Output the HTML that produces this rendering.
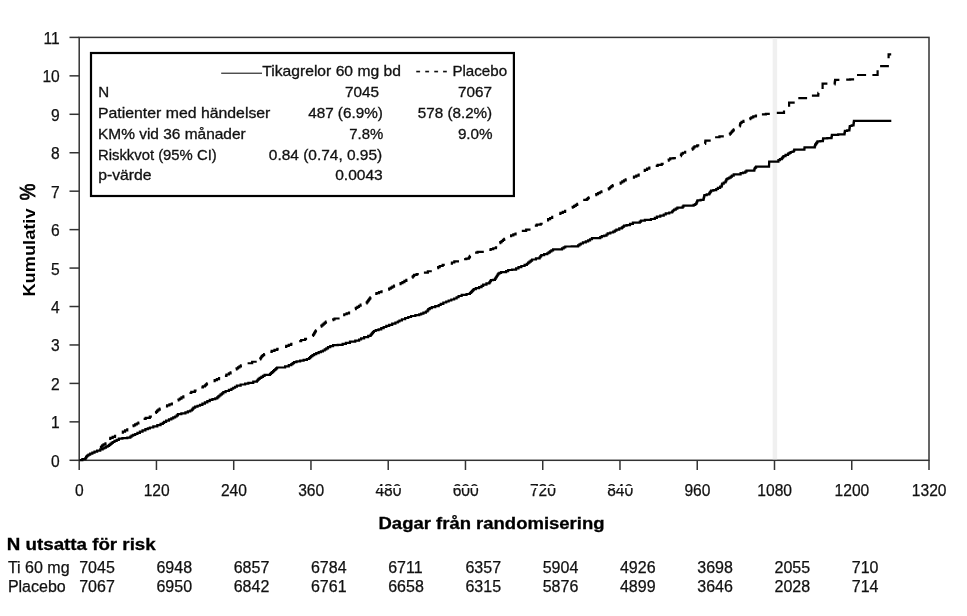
<!DOCTYPE html>
<html><head><meta charset="utf-8"><title>Kumulativ %</title>
<style>
html,body{margin:0;padding:0;background:#fff;}
body{width:967px;height:616px;overflow:hidden;}
svg{display:block;}
.ax{font-family:"Liberation Sans", Arial, sans-serif;font-size:15.6px;fill:#111;stroke:#111;stroke-width:0.25px;}
.axb{font-family:"Liberation Sans", Arial, sans-serif;font-size:16.2px;font-weight:bold;fill:#000;}
.pct{font-size:22.5px;font-weight:normal;stroke:#000;stroke-width:0.8px;}
.cb{font-family:"Liberation Sans", Arial, sans-serif;font-size:17px;font-weight:bold;fill:#000;stroke:#000;stroke-width:0.3px;}
.rt{font-family:"Liberation Sans", Arial, sans-serif;font-size:16px;fill:#111;stroke:#111;stroke-width:0.25px;}
.lg{font-family:"Liberation Sans", Arial, sans-serif;font-size:14.5px;fill:#111;stroke:#111;stroke-width:0.3px;}
</style></head><body>
<svg width="967" height="616" viewBox="0 0 967 616">
<rect x="79.2" y="37.4" width="849.8" height="422.9" fill="none" stroke="#333" stroke-width="1.5"/>
<line x1="774.9" y1="38.4" x2="774.9" y2="459.3" stroke="#f0f0f0" stroke-width="4.5"/>
<line x1="69.5" y1="460.30" x2="79.2" y2="460.30" stroke="#333" stroke-width="1.5"/>
<text x="59.8" y="466.80" text-anchor="end" class="ax">0</text>
<line x1="69.5" y1="421.85" x2="79.2" y2="421.85" stroke="#333" stroke-width="1.5"/>
<text x="59.8" y="428.35" text-anchor="end" class="ax">1</text>
<line x1="69.5" y1="383.41" x2="79.2" y2="383.41" stroke="#333" stroke-width="1.5"/>
<text x="59.8" y="389.91" text-anchor="end" class="ax">2</text>
<line x1="69.5" y1="344.96" x2="79.2" y2="344.96" stroke="#333" stroke-width="1.5"/>
<text x="59.8" y="351.46" text-anchor="end" class="ax">3</text>
<line x1="69.5" y1="306.52" x2="79.2" y2="306.52" stroke="#333" stroke-width="1.5"/>
<text x="59.8" y="313.02" text-anchor="end" class="ax">4</text>
<line x1="69.5" y1="268.07" x2="79.2" y2="268.07" stroke="#333" stroke-width="1.5"/>
<text x="59.8" y="274.57" text-anchor="end" class="ax">5</text>
<line x1="69.5" y1="229.63" x2="79.2" y2="229.63" stroke="#333" stroke-width="1.5"/>
<text x="59.8" y="236.13" text-anchor="end" class="ax">6</text>
<line x1="69.5" y1="191.18" x2="79.2" y2="191.18" stroke="#333" stroke-width="1.5"/>
<text x="59.8" y="197.68" text-anchor="end" class="ax">7</text>
<line x1="69.5" y1="152.74" x2="79.2" y2="152.74" stroke="#333" stroke-width="1.5"/>
<text x="59.8" y="159.24" text-anchor="end" class="ax">8</text>
<line x1="69.5" y1="114.29" x2="79.2" y2="114.29" stroke="#333" stroke-width="1.5"/>
<text x="59.8" y="120.79" text-anchor="end" class="ax">9</text>
<line x1="69.5" y1="75.85" x2="79.2" y2="75.85" stroke="#333" stroke-width="1.5"/>
<text x="59.8" y="82.35" text-anchor="end" class="ax">10</text>
<line x1="69.5" y1="37.40" x2="79.2" y2="37.40" stroke="#333" stroke-width="1.5"/>
<text x="59.8" y="43.90" text-anchor="end" class="ax">11</text>
<line x1="79.20" y1="460.3" x2="79.20" y2="470" stroke="#333" stroke-width="1.5"/>
<text x="79.40" y="495.5" text-anchor="middle" class="ax">0</text>
<line x1="156.45" y1="460.3" x2="156.45" y2="470" stroke="#333" stroke-width="1.5"/>
<text x="156.65" y="495.5" text-anchor="middle" class="ax">120</text>
<line x1="233.71" y1="460.3" x2="233.71" y2="470" stroke="#333" stroke-width="1.5"/>
<text x="233.91" y="495.5" text-anchor="middle" class="ax">240</text>
<line x1="310.96" y1="460.3" x2="310.96" y2="470" stroke="#333" stroke-width="1.5"/>
<text x="311.16" y="495.5" text-anchor="middle" class="ax">360</text>
<line x1="388.22" y1="460.3" x2="388.22" y2="470" stroke="#333" stroke-width="1.5"/>
<text x="388.42" y="495.5" text-anchor="middle" class="ax">480</text>
<line x1="465.47" y1="460.3" x2="465.47" y2="470" stroke="#333" stroke-width="1.5"/>
<text x="465.67" y="495.5" text-anchor="middle" class="ax">600</text>
<line x1="542.73" y1="460.3" x2="542.73" y2="470" stroke="#333" stroke-width="1.5"/>
<text x="542.93" y="495.5" text-anchor="middle" class="ax">720</text>
<line x1="619.98" y1="460.3" x2="619.98" y2="470" stroke="#333" stroke-width="1.5"/>
<text x="620.18" y="495.5" text-anchor="middle" class="ax">840</text>
<line x1="697.24" y1="460.3" x2="697.24" y2="470" stroke="#333" stroke-width="1.5"/>
<text x="697.44" y="495.5" text-anchor="middle" class="ax">960</text>
<line x1="774.49" y1="460.3" x2="774.49" y2="470" stroke="#333" stroke-width="1.5"/>
<text x="774.69" y="495.5" text-anchor="middle" class="ax">1080</text>
<line x1="851.75" y1="460.3" x2="851.75" y2="470" stroke="#333" stroke-width="1.5"/>
<text x="851.95" y="495.5" text-anchor="middle" class="ax">1200</text>
<line x1="929.00" y1="460.3" x2="929.00" y2="470" stroke="#333" stroke-width="1.5"/>
<text x="929.20" y="495.5" text-anchor="middle" class="ax">1320</text>
<rect x="368" y="486" width="290" height="2" fill="#fff"/>
<path d="M79.60 460.10 L82.35 460.10 L82.35 459.10 L85.10 459.10 L85.42 459.10 L85.42 458.13 L86.05 458.13 L86.05 457.17 L86.68 457.17 L86.68 456.20 L87.00 456.20 L87.53 456.20 L87.53 455.40 L88.57 455.40 L88.57 454.60 L89.10 454.60 L90.18 454.60 L90.18 453.63 L92.35 453.63 L92.35 452.67 L94.52 452.67 L94.52 451.70 L95.60 451.70 L97.15 451.70 L97.15 450.55 L100.25 450.55 L100.25 449.40 L101.80 449.40 L102.64 449.40 L102.64 448.50 L104.31 448.50 L104.31 447.60 L105.99 447.60 L105.99 446.70 L107.66 446.70 L107.66 445.80 L108.50 445.80 L109.11 445.80 L109.11 444.85 L110.34 444.85 L110.34 443.90 L111.56 443.90 L111.56 442.95 L112.79 442.95 L112.79 442.00 L113.40 442.00 L114.48 442.00 L114.48 440.90 L116.65 440.90 L116.65 439.80 L118.82 439.80 L118.82 438.70 L119.90 438.70 L122.40 438.70 L122.40 438.10 L124.90 438.10 L127.30 438.10 L127.30 437.60 L129.70 437.60 L130.32 437.60 L130.32 436.60 L131.57 436.60 L131.57 435.60 L132.20 435.60 L133.20 435.60 L133.20 434.80 L135.20 434.80 L135.20 434.00 L136.20 434.00 L137.42 434.00 L137.42 432.80 L139.88 432.80 L139.88 431.60 L141.10 431.60 L142.53 431.60 L142.53 430.35 L145.38 430.35 L145.38 429.10 L146.80 429.10 L147.83 429.10 L147.83 428.30 L149.88 428.30 L149.88 427.50 L150.90 427.50 L153.30 427.50 L153.30 426.30 L155.70 426.30 L157.32 426.30 L157.32 425.05 L160.57 425.05 L160.57 423.80 L162.20 423.80 L162.82 423.80 L162.82 422.80 L164.07 422.80 L164.07 421.80 L164.70 421.80 L166.12 421.80 L166.12 420.60 L168.97 420.60 L168.97 419.40 L170.40 419.40 L171.35 419.40 L171.35 418.43 L173.25 418.43 L173.25 417.47 L175.15 417.47 L175.15 416.50 L176.10 416.50 L176.70 416.50 L176.70 415.30 L177.90 415.30 L177.90 414.10 L178.50 414.10 L181.35 414.10 L181.35 413.30 L184.20 413.30 L185.42 413.30 L185.42 412.37 L187.85 412.37 L187.85 411.43 L190.28 411.43 L190.28 410.50 L191.50 410.50 L191.90 410.50 L191.90 409.53 L192.70 409.53 L192.70 408.57 L193.50 408.57 L193.50 407.60 L193.90 407.60 L195.12 407.60 L195.12 406.67 L197.55 406.67 L197.55 405.73 L199.98 405.73 L199.98 404.80 L201.20 404.80 L202.42 404.80 L202.42 403.60 L204.88 403.60 L204.88 402.40 L206.10 402.40 L207.32 402.40 L207.32 401.15 L209.78 401.15 L209.78 399.90 L211.00 399.90 L212.43 399.90 L212.43 399.10 L215.27 399.10 L215.27 398.30 L216.70 398.30 L217.23 398.30 L217.23 397.37 L218.30 397.37 L218.30 396.43 L219.37 396.43 L219.37 395.50 L219.90 395.50 L220.58 395.50 L220.58 394.40 L221.95 394.40 L221.95 393.30 L223.32 393.30 L223.32 392.20 L224.00 392.20 L225.62 392.20 L225.62 391.00 L228.88 391.00 L228.88 389.80 L230.50 389.80 L231.41 389.80 L231.41 388.77 L233.24 388.77 L233.24 387.75 L235.06 387.75 L235.06 386.73 L236.89 386.73 L236.89 385.70 L237.80 385.70 L240.65 385.70 L240.65 384.50 L243.50 384.50 L245.12 384.50 L245.12 383.70 L248.38 383.70 L248.38 382.90 L250.00 382.90 L253.25 382.90 L253.25 381.70 L256.50 381.70 L256.90 381.70 L256.90 380.77 L257.70 380.77 L257.70 379.83 L258.50 379.83 L258.50 378.90 L258.90 378.90 L259.71 378.90 L259.71 377.88 L261.34 377.88 L261.34 376.85 L262.96 376.85 L262.96 375.82 L264.59 375.82 L264.59 374.80 L265.40 374.80 L267.45 374.80 L269.50 374.80 L270.01 374.80 L270.01 373.88 L271.04 373.88 L271.04 372.95 L272.06 372.95 L272.06 372.03 L273.09 372.03 L273.09 371.10 L273.60 371.10 L274.10 371.10 L274.10 370.20 L275.10 370.20 L275.10 369.30 L276.10 369.30 L276.10 368.40 L277.10 368.40 L277.10 367.50 L277.60 367.50 L280.45 367.50 L283.30 367.50 L285.12 367.50 L285.12 366.30 L288.78 366.30 L288.78 365.10 L290.60 365.10 L291.28 365.10 L291.28 364.13 L292.65 364.13 L292.65 363.17 L294.02 363.17 L294.02 362.20 L294.70 362.20 L296.52 362.20 L296.52 361.40 L300.18 361.40 L300.18 360.60 L302.00 360.60 L303.62 360.60 L303.62 359.80 L306.88 359.80 L306.88 359.00 L308.50 359.00 L309.03 359.00 L309.03 358.03 L310.10 358.03 L310.10 357.07 L311.17 357.07 L311.17 356.10 L311.70 356.10 L312.52 356.10 L312.52 355.10 L314.18 355.10 L314.18 354.10 L315.00 354.10 L316.23 354.10 L316.23 353.10 L318.67 353.10 L318.67 352.10 L319.90 352.10 L320.90 352.10 L320.90 351.30 L322.90 351.30 L322.90 350.50 L323.90 350.50 L324.72 350.50 L324.72 349.40 L326.35 349.40 L326.35 348.30 L327.98 348.30 L327.98 347.20 L328.80 347.20 L330.23 347.20 L330.23 346.20 L333.07 346.20 L333.07 345.20 L334.50 345.20 L337.75 345.20 L337.75 344.80 L341.00 344.80 L342.62 344.80 L342.62 343.80 L345.88 343.80 L345.88 342.80 L347.50 342.80 L349.95 342.80 L349.95 341.60 L352.40 341.60 L355.25 341.60 L355.25 340.70 L358.10 340.70 L359.10 340.70 L359.10 339.50 L361.10 339.50 L361.10 338.30 L362.10 338.30 L364.12 338.30 L364.12 337.10 L368.18 337.10 L368.18 335.90 L370.20 335.90 L370.61 335.90 L370.61 334.92 L371.43 334.92 L371.43 333.94 L372.25 333.94 L372.25 332.96 L373.07 332.96 L373.07 331.98 L373.89 331.98 L373.89 331.00 L374.30 331.00 L375.73 331.00 L375.73 330.20 L378.57 330.20 L378.57 329.40 L380.00 329.40 L381.23 329.40 L381.23 328.20 L383.67 328.20 L383.67 327.00 L384.90 327.00 L386.32 327.00 L386.32 325.95 L389.18 325.95 L389.18 324.90 L390.60 324.90 L392.20 324.90 L392.20 323.70 L395.40 323.70 L395.40 322.50 L397.00 322.50 L397.82 322.50 L397.82 321.50 L399.48 321.50 L399.48 320.50 L400.30 320.50 L401.93 320.50 L401.93 319.25 L405.18 319.25 L405.18 318.00 L406.80 318.00 L408.23 318.00 L408.23 317.00 L411.07 317.00 L411.07 316.00 L412.50 316.00 L415.35 316.00 L415.35 315.20 L418.20 315.20 L419.20 315.20 L419.20 314.40 L421.20 314.40 L421.20 313.60 L422.20 313.60 L423.43 313.60 L423.43 312.55 L425.88 312.55 L425.88 311.50 L427.10 311.50 L427.50 311.50 L427.50 310.30 L428.30 310.30 L428.30 309.10 L428.70 309.10 L429.73 309.10 L429.73 308.10 L431.77 308.10 L431.77 307.10 L432.80 307.10 L435.25 307.10 L435.25 306.20 L437.70 306.20 L438.70 306.20 L438.70 305.00 L440.70 305.00 L440.70 303.80 L441.70 303.80 L443.35 303.80 L443.35 302.50 L445.00 302.50 L446.23 302.50 L446.23 301.50 L448.67 301.50 L448.67 300.50 L449.90 300.50 L451.32 300.50 L451.32 299.50 L454.18 299.50 L454.18 298.50 L455.60 298.50 L456.60 298.50 L456.60 297.25 L458.60 297.25 L458.60 296.00 L459.60 296.00 L461.65 296.00 L461.65 294.80 L463.70 294.80 L466.55 294.80 L466.55 294.00 L469.40 294.00 L469.88 294.00 L469.88 293.02 L470.84 293.02 L470.84 292.04 L471.80 292.04 L471.80 291.06 L472.76 291.06 L472.76 290.08 L473.72 290.08 L473.72 289.10 L474.20 289.10 L475.82 289.10 L475.82 288.10 L479.07 288.10 L479.07 287.10 L480.70 287.10 L481.52 287.10 L481.52 285.90 L483.18 285.90 L483.18 284.70 L484.00 284.70 L486.45 284.70 L486.45 283.40 L488.90 283.40 L489.30 283.40 L489.30 282.33 L490.10 282.33 L490.10 281.27 L490.90 281.27 L490.90 280.20 L491.30 280.20 L492.95 280.20 L492.95 279.80 L494.60 279.80 L494.93 279.80 L494.93 278.78 L495.60 278.78 L495.60 277.77 L496.27 277.77 L496.27 276.75 L496.93 276.75 L496.93 275.73 L497.60 275.73 L497.60 274.72 L498.27 274.72 L498.27 273.70 L498.60 273.70 L499.43 273.70 L499.43 272.90 L501.07 272.90 L501.07 272.10 L501.90 272.10 L503.50 272.10 L505.10 272.10 L506.12 272.10 L506.12 271.05 L508.18 271.05 L508.18 270.00 L509.20 270.00 L512.05 270.00 L512.05 269.70 L514.90 269.70 L516.10 269.70 L516.10 268.45 L518.50 268.45 L518.50 267.20 L519.70 267.20 L521.33 267.20 L521.33 266.00 L524.58 266.00 L524.58 264.80 L526.20 264.80 L526.85 264.80 L526.85 263.74 L528.15 263.74 L528.15 262.68 L529.45 262.68 L529.45 261.62 L530.75 261.62 L530.75 260.56 L532.05 260.56 L532.05 259.50 L532.70 259.50 L535.95 259.50 L535.95 258.30 L539.20 258.30 L539.62 258.30 L539.62 257.23 L540.45 257.23 L540.45 256.17 L541.28 256.17 L541.28 255.10 L541.70 255.10 L544.15 255.10 L544.15 254.20 L546.60 254.20 L547.27 254.20 L547.27 253.27 L548.60 253.27 L548.60 252.33 L549.93 252.33 L549.93 251.40 L550.60 251.40 L551.42 251.40 L551.42 250.40 L553.08 250.40 L553.08 249.40 L553.90 249.40 L557.55 249.40 L561.20 249.40 L562.02 249.40 L562.02 248.43 L563.65 248.43 L563.65 247.47 L565.28 247.47 L565.28 246.50 L566.10 246.50 L571.75 246.50 L571.75 246.30 L577.40 246.30 L578.08 246.30 L578.08 245.37 L579.45 245.37 L579.45 244.43 L580.82 244.43 L580.82 243.50 L581.50 243.50 L582.92 243.50 L582.92 242.45 L585.78 242.45 L585.78 241.40 L587.20 241.40 L588.15 241.40 L588.15 240.33 L590.05 240.33 L590.05 239.27 L591.95 239.27 L591.95 238.20 L592.90 238.20 L596.15 238.20 L599.40 238.20 L600.20 238.20 L600.20 237.15 L601.80 237.15 L601.80 236.10 L602.60 236.10 L604.25 236.10 L604.25 235.70 L605.90 235.70 L606.50 235.70 L606.50 234.50 L607.70 234.50 L607.70 233.30 L608.30 233.30 L610.35 233.30 L610.35 232.50 L612.40 232.50 L613.20 232.50 L613.20 231.57 L614.80 231.57 L614.80 230.63 L616.40 230.63 L616.40 229.70 L617.20 229.70 L619.25 229.70 L619.25 228.40 L621.30 228.40 L621.85 228.40 L621.85 227.47 L622.95 227.47 L622.95 226.53 L624.05 226.53 L624.05 225.60 L624.60 225.60 L626.60 225.60 L626.60 225.20 L628.60 225.20 L630.02 225.20 L630.02 223.95 L632.88 223.95 L632.88 222.70 L634.30 222.70 L636.75 222.70 L639.20 222.70 L639.80 222.70 L639.80 221.70 L641.00 221.70 L641.00 220.70 L641.60 220.70 L644.85 220.70 L644.85 219.80 L648.10 219.80 L650.95 219.80 L650.95 219.00 L653.80 219.00 L654.82 219.00 L654.82 217.80 L656.88 217.80 L656.88 216.60 L657.90 216.60 L660.30 216.60 L660.30 215.70 L662.70 215.70 L663.73 215.70 L663.73 214.50 L665.77 214.50 L665.77 213.30 L666.80 213.30 L669.25 213.30 L669.25 212.50 L671.70 212.50 L672.10 212.50 L672.10 211.50 L672.90 211.50 L672.90 210.50 L673.30 210.50 L674.12 210.50 L674.12 209.53 L675.75 209.53 L675.75 208.57 L677.38 208.57 L677.38 207.60 L678.20 207.60 L680.20 207.60 L682.20 207.60 L682.62 207.60 L682.62 206.60 L683.48 206.60 L683.48 205.60 L683.90 205.60 L688.35 205.60 L692.80 205.60 L693.62 205.60 L693.62 204.80 L695.27 204.80 L695.27 204.00 L696.10 204.00 L696.30 204.00 L696.30 203.07 L696.70 203.07 L696.70 202.15 L697.10 202.15 L697.10 201.23 L697.50 201.23 L697.50 200.30 L697.70 200.30 L700.55 200.30 L700.55 199.90 L703.40 199.90 L703.51 199.90 L703.51 198.94 L703.73 198.94 L703.73 197.98 L703.95 197.98 L703.95 197.02 L704.17 197.02 L704.17 196.06 L704.39 196.06 L704.39 195.10 L704.50 195.10 L706.70 195.10 L706.70 194.30 L708.90 194.30 L709.21 194.30 L709.21 193.38 L709.84 193.38 L709.84 192.45 L710.46 192.45 L710.46 191.53 L711.09 191.53 L711.09 190.60 L711.40 190.60 L713.40 190.60 L713.40 190.20 L715.40 190.20 L716.23 190.20 L716.23 189.00 L717.88 189.00 L717.88 187.80 L718.70 187.80 L720.10 187.80 L720.10 186.60 L721.50 186.60 L721.63 186.60 L721.63 185.63 L721.90 185.63 L721.90 184.67 L722.17 184.67 L722.17 183.70 L722.30 183.70 L723.75 183.70 L723.75 182.50 L725.20 182.50 L725.47 182.50 L725.47 181.40 L726.00 181.40 L726.00 180.30 L726.53 180.30 L726.53 179.20 L726.80 179.20 L727.62 179.20 L727.62 178.40 L729.27 178.40 L729.27 177.60 L730.10 177.60 L730.70 177.60 L730.70 176.60 L731.90 176.60 L731.90 175.60 L732.50 175.60 L733.70 175.60 L733.70 174.40 L734.90 174.40 L737.35 174.40 L739.80 174.40 L740.60 174.40 L740.60 173.20 L741.40 173.20 L743.05 173.20 L743.05 172.70 L744.70 172.70 L745.30 172.70 L745.30 171.70 L746.50 171.70 L746.50 170.70 L747.10 170.70 L750.65 170.70 L754.20 170.70 L754.30 170.70 L754.30 169.60 L754.50 169.60 L754.50 168.50 L754.60 168.50 L755.10 168.50 L755.10 167.55 L756.10 167.55 L756.10 166.60 L756.60 166.60 L762.80 166.60 L769.00 166.60 L769.02 166.60 L769.02 165.60 L769.06 165.60 L769.06 164.60 L769.10 164.60 L769.10 163.60 L769.14 163.60 L769.14 162.60 L769.18 162.60 L769.18 161.60 L769.20 161.60 L773.75 161.60 L778.30 161.60 L778.40 161.60 L778.40 160.20 L778.50 160.20 L779.95 160.20 L779.95 159.20 L781.40 159.20 L781.82 159.20 L781.82 158.17 L782.65 158.17 L782.65 157.13 L783.48 157.13 L783.48 156.10 L783.90 156.10 L785.55 156.10 L785.55 154.90 L787.20 154.90 L788.00 154.90 L788.00 153.60 L788.80 153.60 L789.42 153.60 L789.42 152.80 L790.67 152.80 L790.67 152.00 L791.30 152.00 L792.55 152.00 L792.55 151.50 L793.80 151.50 L793.95 151.50 L793.95 150.60 L794.25 150.60 L794.25 149.70 L794.40 149.70 L799.35 149.70 L804.30 149.70 L804.38 149.70 L804.38 148.50 L804.52 148.50 L804.52 147.30 L804.60 147.30 L809.60 147.30 L814.60 147.30 L814.77 147.30 L814.77 146.10 L815.12 146.10 L815.12 144.90 L815.30 144.90 L815.61 144.90 L815.61 144.03 L816.24 144.03 L816.24 143.15 L816.86 143.15 L816.86 142.28 L817.49 142.28 L817.49 141.40 L817.80 141.40 L820.30 141.40 L820.30 141.20 L822.80 141.20 L822.87 141.20 L822.87 140.27 L823.00 140.27 L823.00 139.33 L823.13 139.33 L823.13 138.40 L823.20 138.40 L827.30 138.40 L827.30 138.20 L831.40 138.20 L831.50 138.20 L831.50 137.07 L831.70 137.07 L831.70 135.93 L831.90 135.93 L831.90 134.80 L832.00 134.80 L838.20 134.80 L838.20 134.30 L844.40 134.30 L844.50 134.30 L844.50 133.17 L844.70 133.17 L844.70 132.03 L844.90 132.03 L844.90 130.90 L845.00 130.90 L847.15 130.90 L847.15 130.30 L849.30 130.30 L849.38 130.30 L849.38 129.23 L849.52 129.23 L849.52 128.15 L849.67 128.15 L849.67 127.08 L849.82 127.08 L849.82 126.00 L849.90 126.00 L851.65 126.00 L851.65 125.40 L853.40 125.40 L853.48 125.40 L853.48 124.28 L853.62 124.28 L853.62 123.15 L853.77 123.15 L853.77 122.03 L853.92 122.03 L853.92 120.90 L854.00 120.90 L872.65 120.90 L891.30 120.90" fill="none" stroke="#000" stroke-width="2.2" stroke-linejoin="miter"/>
<path d="M100.63 448.15 L100.96 448.15 L100.96 447.20 L101.61 447.20 L101.61 446.25 L102.27 446.25 L102.27 445.30 L102.60 445.30 L103.57 445.30 L103.57 444.33 L105.50 444.33 L105.50 443.37 L106.47 443.37 M109.12 438.82 L110.30 438.82 L110.30 437.81 L112.65 437.81 L112.65 436.79 L115.00 436.79 L115.00 435.78 L116.18 435.78 M121.73 432.74 L122.84 432.74 L122.84 431.58 L125.05 431.58 L125.05 430.42 L127.26 430.42 L127.26 429.26 L128.37 429.26 M132.64 426.25 L133.47 426.25 L133.47 425.32 L135.12 425.32 L135.12 424.40 L136.78 424.40 L136.78 423.48 L138.43 423.48 L138.43 422.55 L139.26 422.55 M143.61 418.88 L145.68 418.88 L145.68 417.80 L149.82 417.80 L149.82 416.72 L151.89 416.72 M155.49 413.02 L156.04 413.02 L156.04 411.86 L157.15 411.86 L157.15 410.70 L157.70 410.70 L158.38 410.70 L158.38 409.61 L159.75 409.61 L159.75 408.51 L160.43 408.51 M165.92 406.42 L167.10 406.42 L167.10 405.44 L169.45 405.44 L169.45 404.46 L171.80 404.46 L171.80 403.48 L172.98 403.48 M177.75 400.36 L178.44 400.36 L178.44 399.48 L179.81 399.48 L179.81 398.60 L180.50 398.60 L181.46 398.60 L181.46 397.47 L183.39 397.47 L183.39 396.35 L184.36 396.35 M189.51 392.99 L191.28 392.99 L191.28 391.85 L194.82 391.85 L194.82 390.71 L196.59 390.71 M201.31 387.28 L202.86 387.28 L202.86 386.40 L204.40 386.40 L204.92 386.40 L204.92 385.36 L205.96 385.36 L205.96 384.33 L206.99 384.33 L206.99 383.29 L207.51 383.29 M213.53 381.23 L214.64 381.23 L214.64 380.18 L216.85 380.18 L216.85 379.12 L219.06 379.12 L219.06 378.07 L220.17 378.07 M224.92 375.82 L226.46 375.82 L226.46 374.50 L228.00 374.50 L228.86 374.50 L228.86 373.42 L230.59 373.42 L230.59 372.34 L231.45 372.34 M235.85 369.37 L236.58 369.37 L236.58 368.38 L238.03 368.38 L238.03 367.40 L239.47 367.40 L239.47 366.42 L240.92 366.42 L240.92 365.43 L241.65 365.43 M247.60 363.25 L252.15 363.25 L252.15 361.75 L256.70 361.75 M259.93 359.35 L260.29 359.35 L260.29 358.30 L261.01 358.30 L261.01 357.25 L261.74 357.25 L261.74 356.20 L262.10 356.20 L262.78 356.20 L262.78 355.11 L264.15 355.11 L264.15 354.01 L264.83 354.01 M270.32 351.90 L271.71 351.90 L271.71 350.87 L274.50 350.87 L274.50 349.83 L277.29 349.83 L277.29 348.80 L278.68 348.80 M285.02 346.81 L286.26 346.81 L286.26 345.80 L288.75 345.80 L288.75 344.80 L291.24 344.80 L291.24 343.79 L292.48 343.79 M299.21 341.08 L301.18 341.08 L301.18 340.00 L305.12 340.00 L305.12 338.92 L307.09 338.92 M312.74 335.96 L313.04 335.96 L313.04 335.00 L313.62 335.00 L313.62 334.05 L314.21 334.05 L314.21 333.10 L314.79 333.10 L314.79 332.15 L315.38 332.15 L315.38 331.20 L315.96 331.20 L315.96 330.24 L316.26 330.24 M320.77 326.59 L321.35 326.59 L321.35 325.62 L322.50 325.62 L322.50 324.64 L323.65 324.64 L323.65 323.66 L324.80 323.66 L324.80 322.68 L325.95 322.68 L325.95 321.71 L326.53 321.71 M332.54 320.05 L333.21 320.05 L333.21 319.28 L334.54 319.28 L334.54 318.50 L335.20 318.50 L337.40 318.50 L339.60 318.50 M343.12 315.10 L344.29 315.10 L344.29 314.27 L346.65 314.27 L346.65 313.43 L349.01 313.43 L349.01 312.60 L350.18 312.60 M354.95 309.07 L355.76 309.07 L355.76 307.96 L357.39 307.96 L357.39 306.85 L359.01 306.85 L359.01 305.74 L360.64 305.74 L360.64 304.63 L361.45 304.63 M366.32 303.44 L366.70 303.44 L366.70 302.41 L367.44 302.41 L367.44 301.38 L368.18 301.38 L368.18 300.35 L368.92 300.35 L368.92 299.32 L369.66 299.32 L369.66 298.29 L370.40 298.29 L370.40 297.26 L370.78 297.26 M375.22 293.90 L376.46 293.90 L376.46 293.03 L378.95 293.03 L378.95 292.17 L381.44 292.17 L381.44 291.30 L382.68 291.30 M388.24 289.56 L389.07 289.56 L389.07 288.55 L390.72 288.55 L390.72 287.55 L392.38 287.55 L392.38 286.55 L394.03 286.55 L394.03 285.54 L394.86 285.54 M399.54 284.25 L400.52 284.25 L400.52 283.15 L402.47 283.15 L402.47 282.05 L404.43 282.05 L404.43 280.95 L406.38 280.95 L406.38 279.85 L407.36 279.85 M412.21 277.63 L412.59 277.63 L412.59 276.72 L413.35 276.72 L413.35 275.81 L414.12 275.81 L414.12 274.90 L414.50 274.90 L416.65 274.90 L416.65 274.04 L418.79 274.04 M423.90 272.55 L427.85 272.55 L427.85 271.25 L431.80 271.25 M437.35 268.17 L438.14 268.17 L438.14 267.09 L439.71 267.09 L439.71 266.00 L440.50 266.00 L442.65 266.00 L442.65 264.93 L444.79 264.93 M450.73 263.74 L451.92 263.74 L451.92 262.52 L454.31 262.52 L454.31 261.30 L455.50 261.30 L457.25 261.30 L459.00 261.30 M464.10 259.13 L466.30 259.13 L466.30 258.70 L468.50 258.70 L468.79 258.70 L468.79 257.78 L469.38 257.78 L469.38 256.86 L469.97 256.86 L469.97 255.95 L470.26 255.95 M475.10 252.65 L477.55 252.65 L477.55 251.90 L480.00 251.90 L481.90 251.90 L483.80 251.90 M489.32 249.99 L490.63 249.99 L490.63 249.13 L493.25 249.13 L493.25 248.27 L495.87 248.27 L495.87 247.41 L497.18 247.41 M499.57 243.19 L500.24 243.19 L500.24 242.09 L501.58 242.09 L501.58 241.00 L502.92 241.00 L502.92 239.91 L504.26 239.91 L504.26 238.81 L504.93 238.81 M510.02 236.21 L511.13 236.21 L511.13 235.34 L513.35 235.34 L513.35 234.46 L515.57 234.46 L515.57 233.59 L516.68 233.59 M521.80 230.84 L526.15 230.84 L526.15 229.56 L530.50 229.56 M534.81 225.67 L536.78 225.67 L536.78 224.70 L540.72 224.70 L540.72 223.73 L542.69 223.73 M547.04 220.35 L548.08 220.35 L548.08 219.18 L550.15 219.18 L550.15 218.02 L552.22 218.02 L552.22 216.85 L553.26 216.85 M559.22 213.82 L560.40 213.82 L560.40 212.81 L562.75 212.81 L562.75 211.79 L565.10 211.79 L565.10 210.78 L566.28 210.78 M571.85 207.76 L572.62 207.76 L572.62 206.78 L574.17 206.78 L574.17 205.80 L575.73 205.80 L575.73 204.82 L577.28 204.82 L577.28 203.84 L578.05 203.84 M583.20 199.90 L584.75 199.90 L586.30 199.90 L586.80 199.90 L586.80 199.03 L587.81 199.03 L587.81 198.17 L588.82 198.17 L588.82 197.30 L589.33 197.30 M595.34 195.15 L596.22 195.15 L596.22 194.17 L597.97 194.17 L597.97 193.20 L599.73 193.20 L599.73 192.23 L601.48 192.23 L601.48 191.25 L602.36 191.25 M608.07 189.39 L608.74 189.39 L608.74 188.32 L610.08 188.32 L610.08 187.25 L611.42 187.25 L611.42 186.18 L612.76 186.18 L612.76 185.11 L613.43 185.11 M619.74 183.56 L620.60 183.56 L620.60 182.50 L622.30 182.50 L622.30 181.45 L624.00 181.45 L624.00 180.40 L625.70 180.40 L625.70 179.34 L626.56 179.34 M632.83 177.62 L633.98 177.62 L633.98 176.57 L636.30 176.57 L636.30 175.53 L638.62 175.53 L638.62 174.48 L639.77 174.48 M643.63 170.83 L644.77 170.83 L644.77 169.78 L647.05 169.78 L647.05 168.72 L649.33 168.72 L649.33 167.67 L650.47 167.67 M655.71 165.87 L657.70 165.87 L657.70 164.85 L661.70 164.85 L661.70 163.83 L663.69 163.83 M667.85 160.57 L668.64 160.57 L668.64 159.49 L670.21 159.49 L670.21 158.40 L671.00 158.40 L673.45 158.40 L673.45 158.08 L675.90 158.08 M680.68 156.07 L680.96 156.07 L680.96 154.84 L681.52 154.84 L681.52 153.60 L681.80 153.60 L682.92 153.60 L682.92 152.75 L685.16 152.75 L685.16 151.89 L686.28 151.89 M691.89 149.61 L692.42 149.61 L692.42 148.54 L693.49 148.54 L693.49 147.47 L694.56 147.47 L694.56 146.40 L695.10 146.40 L697.20 146.40 L697.20 145.43 L699.29 145.43 M705.06 143.80 L705.13 143.80 L705.13 142.73 L705.28 142.73 L705.28 141.67 L705.43 141.67 L705.43 140.60 L705.50 140.60 L708.10 140.60 L708.10 140.71 L710.70 140.71 M715.10 137.23 L719.45 137.23 L719.45 136.47 L723.80 136.47 M729.40 134.62 L729.89 134.62 L729.89 133.55 L730.87 133.55 L730.87 132.48 L731.85 132.48 L731.85 131.42 L732.83 131.42 L732.83 130.35 L733.81 130.35 L733.81 129.28 L734.30 129.28 M739.73 126.49 L739.87 126.49 L739.87 125.33 L740.16 125.33 L740.16 124.16 L740.45 124.16 L740.45 123.00 L740.60 123.00 L741.57 123.00 L741.57 121.93 L743.50 121.93 L743.50 120.85 L744.46 120.85 M749.67 119.19 L750.25 119.19 L750.25 118.24 L751.42 118.24 L751.42 117.30 L752.00 117.30 L753.27 117.30 L753.27 116.45 L755.81 116.45 L755.81 115.61 L757.08 115.61 M761.90 114.32 L765.85 114.32 L765.85 113.78 L769.80 113.78 M776.80 112.80 L780.40 112.80 L784.00 112.80 L784.00 111.70 L784.00 110.60 M789.10 106.70 L789.10 105.70 L789.10 104.70 L789.10 103.70 L789.10 102.70 L791.90 102.70 L794.70 102.70 M798.30 98.10 L802.70 98.10 L807.10 98.10 M811.90 95.60 L815.05 95.60 L818.20 95.60 L818.24 95.60 L818.24 94.70 L818.31 94.70 L818.31 93.80 L818.39 93.80 L818.39 92.90 L818.42 92.90 M822.60 88.90 L822.60 87.84 L822.60 86.78 L822.60 85.72 L822.60 84.66 L822.60 83.60 L825.00 83.60 L827.40 83.60 M834.56 84.40 L834.64 84.40 L834.64 83.27 L834.80 83.27 L834.80 82.15 L834.96 82.15 L834.96 81.02 L835.12 81.02 L835.12 79.90 L835.20 79.90 L837.30 79.90 L839.40 79.90 M846.20 79.61 L850.15 79.61 L850.15 79.39 L854.10 79.39 M857.00 75.00 L861.55 75.00 L866.10 75.00 M872.40 75.00 L875.00 75.00 L877.60 75.00 L877.60 74.06 L877.60 73.12 L877.60 72.18 L877.60 71.24 L877.60 70.30 M880.10 66.10 L884.50 66.10 L888.90 66.10 M888.60 58.30 L888.60 57.30 L888.60 56.30 L888.60 55.30 L888.60 54.30 L889.90 54.30 L891.20 54.30" fill="none" stroke="#000" stroke-width="2.2" stroke-linejoin="miter"/>
<text transform="translate(35.0,296.6) rotate(-90)" class="axb" textLength="88.2" lengthAdjust="spacingAndGlyphs">Kumulativ</text>
<text transform="translate(34.6,200.3) rotate(-90)" class="axb pct" textLength="16.6" lengthAdjust="spacingAndGlyphs">%</text>
<text x="378.5" y="528.6" class="cb" textLength="226.0" lengthAdjust="spacingAndGlyphs">Dagar från randomisering</text>
<text x="6.8" y="550.0" class="cb" textLength="148.9" lengthAdjust="spacingAndGlyphs">N utsatta för risk</text>
<text x="7.9" y="572.7" class="rt">Ti 60 mg</text>
<text x="7.9" y="591.9" class="rt">Placebo</text>
<text x="79.20" y="572.7" class="rt">7045</text>
<text x="79.20" y="591.9" class="rt">7067</text>
<text x="156.45" y="572.7" class="rt">6948</text>
<text x="156.45" y="591.9" class="rt">6950</text>
<text x="233.71" y="572.7" class="rt">6857</text>
<text x="233.71" y="591.9" class="rt">6842</text>
<text x="310.96" y="572.7" class="rt">6784</text>
<text x="310.96" y="591.9" class="rt">6761</text>
<text x="388.22" y="572.7" class="rt">6711</text>
<text x="388.22" y="591.9" class="rt">6658</text>
<text x="465.47" y="572.7" class="rt">6357</text>
<text x="465.47" y="591.9" class="rt">6315</text>
<text x="542.73" y="572.7" class="rt">5904</text>
<text x="542.73" y="591.9" class="rt">5876</text>
<text x="619.98" y="572.7" class="rt">4926</text>
<text x="619.98" y="591.9" class="rt">4899</text>
<text x="697.24" y="572.7" class="rt">3698</text>
<text x="697.24" y="591.9" class="rt">3646</text>
<text x="774.49" y="572.7" class="rt">2055</text>
<text x="774.49" y="591.9" class="rt">2028</text>
<text x="851.75" y="572.7" class="rt">710</text>
<text x="851.75" y="591.9" class="rt">714</text>
<rect x="91.0" y="53.0" width="422.9" height="143.0" fill="#fff" stroke="#000" stroke-width="2.2"/>
<line x1="221.2" y1="73.2" x2="262.0" y2="73.2" stroke="#000" stroke-width="1"/>
<text x="262.3" y="75.6" class="lg" textLength="138.6" lengthAdjust="spacingAndGlyphs">Tikagrelor 60 mg bd</text>
<text x="452.4" y="75.7" class="lg" textLength="54.7" lengthAdjust="spacingAndGlyphs">Placebo</text>
<text x="98.2" y="96.6" class="lg" textLength="10.9" lengthAdjust="spacingAndGlyphs">N</text>
<text x="344.9" y="96.5" class="lg" textLength="34.1" lengthAdjust="spacingAndGlyphs">7045</text>
<text x="457.9" y="96.5" class="lg" textLength="34.0" lengthAdjust="spacingAndGlyphs">7067</text>
<text x="98.0" y="117.7" class="lg" textLength="172.4" lengthAdjust="spacingAndGlyphs">Patienter med händelser</text>
<text x="308.2" y="117.7" class="lg" textLength="74.6" lengthAdjust="spacingAndGlyphs">487 (6.9%)</text>
<text x="417.8" y="117.7" class="lg" textLength="74.4" lengthAdjust="spacingAndGlyphs">578 (8.2%)</text>
<text x="98.0" y="138.7" class="lg" textLength="147.7" lengthAdjust="spacingAndGlyphs">KM% vid 36 månader</text>
<text x="349.3" y="138.7" class="lg" textLength="34.0" lengthAdjust="spacingAndGlyphs">7.8%</text>
<text x="457.9" y="138.7" class="lg" textLength="34.7" lengthAdjust="spacingAndGlyphs">9.0%</text>
<text x="98.0" y="159.7" class="lg" textLength="118.7" lengthAdjust="spacingAndGlyphs">Riskkvot (95% CI)</text>
<text x="268.8" y="159.7" class="lg" textLength="113.4" lengthAdjust="spacingAndGlyphs">0.84 (0.74, 0.95)</text>
<text x="98.2" y="179.7" class="lg" textLength="53.4" lengthAdjust="spacingAndGlyphs">p-värde</text>
<text x="335.2" y="179.7" class="lg" textLength="47.6" lengthAdjust="spacingAndGlyphs">0.0043</text>
<text y="75.7" class="lg"><tspan x="415.8">-</tspan><tspan x="424.8">-</tspan><tspan x="433.8">-</tspan><tspan x="442.6">-</tspan></text>
</svg>
</body></html>
